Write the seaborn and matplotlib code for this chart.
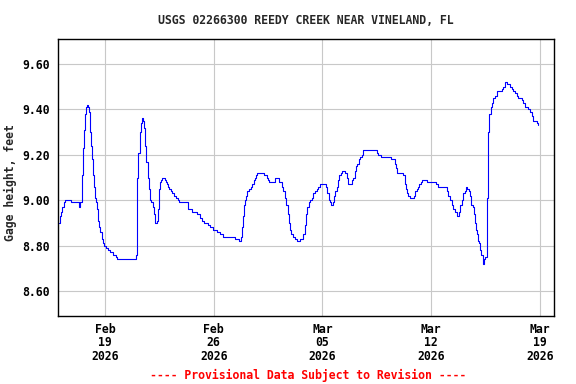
import pandas as pd
import matplotlib
matplotlib.use("Agg")
import matplotlib.pyplot as plt
import matplotlib.dates as mdates
from matplotlib.ticker import FixedLocator, FormatStrFormatter
import seaborn as sns

TITLE = "USGS 02266300 REEDY CREEK NEAR VINELAND, FL"
Y_LABEL = "Gage height, feet"
FOOTER = "---- Provisional Data Subject to Revision ----"

# gage height readings
times = [
    "2026-02-16 01:00", "2026-02-16 02:30", "2026-02-16 04:00", "2026-02-16 06:00",
    "2026-02-16 08:00", "2026-02-16 10:00", "2026-02-16 19:30", "2026-02-17 08:15",
    "2026-02-17 09:45", "2026-02-17 12:00", "2026-02-17 13:30", "2026-02-17 15:00",
    "2026-02-17 16:30", "2026-02-17 18:00", "2026-02-17 19:45", "2026-02-17 21:15",
    "2026-02-17 22:45", "2026-02-18 00:30", "2026-02-18 02:00", "2026-02-18 03:30",
    "2026-02-18 05:30", "2026-02-18 07:30", "2026-02-18 09:00", "2026-02-18 10:30",
    "2026-02-18 12:00", "2026-02-18 13:30", "2026-02-18 15:15", "2026-02-18 16:45",
    "2026-02-18 19:00", "2026-02-18 21:00", "2026-02-18 23:00", "2026-02-19 01:00",
    "2026-02-19 04:15", "2026-02-19 07:45", "2026-02-19 12:45", "2026-02-19 16:30",
    "2026-02-19 18:30", "2026-02-21 00:00", "2026-02-21 01:00", "2026-02-21 02:00",
    "2026-02-21 03:30", "2026-02-21 05:30", "2026-02-21 07:15", "2026-02-21 08:45",
    "2026-02-21 10:15", "2026-02-21 11:45", "2026-02-21 13:45", "2026-02-21 15:45",
    "2026-02-21 18:00", "2026-02-21 20:00", "2026-02-21 22:00", "2026-02-21 23:30",
    "2026-02-22 01:45", "2026-02-22 03:15", "2026-02-22 04:45", "2026-02-22 08:00",
    "2026-02-22 09:30", "2026-02-22 11:00", "2026-02-22 12:30", "2026-02-22 14:00",
    "2026-02-22 15:30", "2026-02-22 20:45", "2026-02-22 22:15", "2026-02-23 00:15",
    "2026-02-23 01:45", "2026-02-23 03:30", "2026-02-23 05:30", "2026-02-23 08:00",
    "2026-02-23 10:30", "2026-02-23 13:45", "2026-02-23 16:30", "2026-02-23 18:45",
    "2026-02-24 08:45", "2026-02-24 14:00", "2026-02-24 21:45", "2026-02-25 02:45",
    "2026-02-25 05:30", "2026-02-25 08:30", "2026-02-25 14:45", "2026-02-25 18:15",
    "2026-02-25 23:30", "2026-02-26 05:30", "2026-02-26 09:45", "2026-02-26 14:00",
    "2026-02-27 09:00", "2026-02-27 15:30", "2026-02-27 17:45", "2026-02-27 19:15",
    "2026-02-27 20:45", "2026-02-27 22:15", "2026-02-27 23:45", "2026-02-28 02:00",
    "2026-02-28 04:00", "2026-02-28 06:00", "2026-02-28 09:15", "2026-02-28 11:30",
    "2026-02-28 13:45", "2026-02-28 15:15", "2026-02-28 17:30", "2026-02-28 19:30",
    "2026-03-01 06:15", "2026-03-01 09:45", "2026-03-01 12:30", "2026-03-01 14:00",
    "2026-03-01 23:15", "2026-03-02 05:30", "2026-03-02 09:00", "2026-03-02 11:30",
    "2026-03-02 14:15", "2026-03-02 16:15", "2026-03-02 18:15", "2026-03-02 20:30",
    "2026-03-02 22:00", "2026-03-02 23:45", "2026-03-03 02:00", "2026-03-03 05:30",
    "2026-03-03 08:15", "2026-03-03 13:30", "2026-03-03 18:30", "2026-03-03 20:30",
    "2026-03-03 22:30", "2026-03-04 00:30", "2026-03-04 02:45", "2026-03-04 04:45",
    "2026-03-04 07:30", "2026-03-04 10:00", "2026-03-04 12:30", "2026-03-04 15:15",
    "2026-03-04 17:30", "2026-03-04 20:15", "2026-03-05 05:30", "2026-03-05 07:30",
    "2026-03-05 09:45", "2026-03-05 11:45", "2026-03-05 13:45", "2026-03-05 16:00",
    "2026-03-05 18:00", "2026-03-05 20:00", "2026-03-05 22:00", "2026-03-06 00:00",
    "2026-03-06 02:00", "2026-03-06 04:15", "2026-03-06 06:15", "2026-03-06 11:00",
    "2026-03-06 13:30", "2026-03-06 15:30", "2026-03-06 22:15", "2026-03-06 23:45",
    "2026-03-07 02:00", "2026-03-07 04:00", "2026-03-07 06:00", "2026-03-07 08:00",
    "2026-03-07 10:00", "2026-03-07 13:15", "2026-03-07 15:15", "2026-03-08 13:00",
    "2026-03-08 14:30", "2026-03-08 18:00", "2026-03-09 09:30", "2026-03-09 16:15",
    "2026-03-09 17:45", "2026-03-09 19:15", "2026-03-10 05:00", "2026-03-10 07:15",
    "2026-03-10 08:45", "2026-03-10 10:45", "2026-03-10 12:45", "2026-03-10 15:15",
    "2026-03-10 22:00", "2026-03-10 23:30", "2026-03-11 01:45", "2026-03-11 04:15",
    "2026-03-11 05:45", "2026-03-11 08:00", "2026-03-11 09:30", "2026-03-11 18:00",
    "2026-03-12 07:30", "2026-03-12 10:15", "2026-03-13 00:00", "2026-03-13 02:30",
    "2026-03-13 05:15", "2026-03-13 07:45", "2026-03-13 10:15", "2026-03-13 13:00",
    "2026-03-13 15:30", "2026-03-13 18:30", "2026-03-13 20:30", "2026-03-13 23:15",
    "2026-03-14 01:45", "2026-03-14 04:00", "2026-03-14 06:00", "2026-03-14 08:00",
    "2026-03-14 10:00", "2026-03-14 12:00", "2026-03-14 14:00", "2026-03-14 16:15",
    "2026-03-14 18:15", "2026-03-14 19:45", "2026-03-14 21:15", "2026-03-14 23:00",
    "2026-03-15 00:30", "2026-03-15 02:00", "2026-03-15 03:30", "2026-03-15 05:30",
    "2026-03-15 07:45", "2026-03-15 09:45", "2026-03-15 11:45", "2026-03-15 14:00",
    "2026-03-15 14:15", "2026-03-15 16:00", "2026-03-15 18:00", "2026-03-15 20:00",
    "2026-03-15 22:00", "2026-03-16 00:00", "2026-03-16 02:15", "2026-03-16 05:15",
    "2026-03-16 13:00", "2026-03-16 15:30", "2026-03-16 18:30", "2026-03-16 21:45",
    "2026-03-17 02:00", "2026-03-17 04:30", "2026-03-17 07:00", "2026-03-17 09:15",
    "2026-03-17 12:15", "2026-03-17 14:45", "2026-03-17 20:00", "2026-03-17 22:30",
    "2026-03-18 01:00", "2026-03-18 06:15", "2026-03-18 08:45", "2026-03-18 11:30",
    "2026-03-18 14:00", "2026-03-18 19:00", "2026-03-18 21:30",
]
gage_ft = [
    8.90, 8.93, 8.95, 8.97,
    8.99, 9.00, 8.99, 8.97,
    8.99, 9.11, 9.23, 9.31,
    9.38, 9.41, 9.42, 9.41,
    9.39, 9.30, 9.24, 9.18,
    9.11, 9.06, 9.01, 8.99,
    8.96, 8.91, 8.88, 8.86,
    8.83, 8.81, 8.80, 8.79,
    8.78, 8.77, 8.76, 8.75,
    8.74, 8.76, 8.92, 9.10,
    9.21, 9.30, 9.34, 9.36,
    9.35, 9.32, 9.24, 9.17,
    9.10, 9.05, 9.00, 8.99,
    8.97, 8.94, 8.90, 8.91,
    8.96, 9.05, 9.08, 9.09,
    9.10, 9.09, 9.08, 9.07,
    9.06, 9.05, 9.04, 9.03,
    9.02, 9.01, 9.00, 8.99,
    8.96, 8.95, 8.94, 8.92,
    8.91, 8.90, 8.89, 8.88,
    8.87, 8.86, 8.85, 8.84,
    8.83, 8.82, 8.84, 8.88,
    8.93, 8.98, 9.00, 9.02,
    9.04, 9.05, 9.06, 9.07,
    9.09, 9.10, 9.11, 9.12,
    9.11, 9.10, 9.09, 9.08,
    9.10, 9.08, 9.06, 9.04,
    9.01, 8.98, 8.94, 8.90,
    8.87, 8.85, 8.84, 8.83,
    8.82, 8.83, 8.85, 8.89,
    8.94, 8.97, 8.99, 9.00,
    9.01, 9.03, 9.04, 9.05,
    9.06, 9.07, 9.06, 9.03,
    9.00, 8.99, 8.98, 8.99,
    9.02, 9.04, 9.06, 9.09,
    9.11, 9.12, 9.13, 9.12,
    9.10, 9.07, 9.09, 9.10,
    9.13, 9.15, 9.16, 9.18,
    9.19, 9.20, 9.22, 9.21,
    9.20, 9.19, 9.18, 9.16,
    9.14, 9.12, 9.11, 9.07,
    9.05, 9.03, 9.02, 9.01,
    9.02, 9.04, 9.05, 9.06,
    9.07, 9.08, 9.09, 9.08,
    9.07, 9.06, 9.04, 9.02,
    9.00, 8.98, 8.96, 8.95,
    8.93, 8.95, 8.98, 9.00,
    9.03, 9.04, 9.06, 9.05,
    9.04, 9.02, 8.98, 8.97,
    8.94, 8.90, 8.87, 8.85,
    8.82, 8.81, 8.78, 8.76,
    8.72, 8.74, 8.75, 8.77,
    9.01, 9.30, 9.38, 9.41,
    9.43, 9.45, 9.46, 9.48,
    9.49, 9.50, 9.52, 9.51,
    9.50, 9.49, 9.48, 9.47,
    9.46, 9.45, 9.44, 9.43,
    9.41, 9.40, 9.39, 9.37,
    9.35, 9.34, 9.33,
]

tick_dates = ["2026-02-19", "2026-02-26", "2026-03-05", "2026-03-12", "2026-03-19"]
y_ticks = [8.60, 8.80, 9.00, 9.20, 9.40, 9.60]

df = pd.DataFrame({"time": pd.to_datetime(times), "gage": gage_ft})

sns.set_style("white")
plt.rcParams["font.family"] = ["DejaVu Sans Mono"]
plt.rcParams["font.weight"] = "bold"
plt.rcParams["font.size"] = 8.3

fig = plt.figure(figsize=(5.76, 3.84), dpi=100)
ax = fig.add_axes([58 / 576, 1 - 316 / 384, 496 / 576, 277 / 384])

sns.lineplot(data=df, x="time", y="gage", ax=ax, color="#0000ff",
             linewidth=0.8, drawstyle="steps-post", estimator=None)

ax.set_xlim(pd.Timestamp("2026-02-15 23:30"), pd.Timestamp("2026-03-19 21:45"))
ax.set_ylim(8.49, 9.71)

ticks = pd.to_datetime(tick_dates)
ax.xaxis.set_major_locator(FixedLocator(mdates.date2num(ticks)))
ax.set_xticklabels([f"{t:%b}\n{t:%d}\n{t:%Y}" for t in ticks], linespacing=1.05)
ax.yaxis.set_major_locator(FixedLocator(y_ticks))
ax.yaxis.set_major_formatter(FormatStrFormatter("%.2f"))

ax.grid(True, color="#c8c8c8", linewidth=0.8)
ax.tick_params(axis="both", length=0, labelsize=8.3, colors="black")
ax.tick_params(axis="x", pad=5)
ax.tick_params(axis="y", pad=6)
for spine in ax.spines.values():
    spine.set_visible(True)
    spine.set_color("black")
    spine.set_linewidth(1.0)

ax.set_xlabel("")
ax.set_ylabel(Y_LABEL, fontsize=8.3, fontweight="bold")
ax.yaxis.set_label_coords((17 - 58) / 496, 0.48)

fig.text(306 / 576, 1 - 20 / 384, TITLE, ha="center", va="center",
         fontsize=8.3, fontweight="bold")
fig.text(308 / 576, 1 - 375 / 384, FOOTER, ha="center", va="center",
         fontsize=8.3, fontweight="bold", color="red")

fig.savefig("out.png", dpi=100, facecolor="white")
